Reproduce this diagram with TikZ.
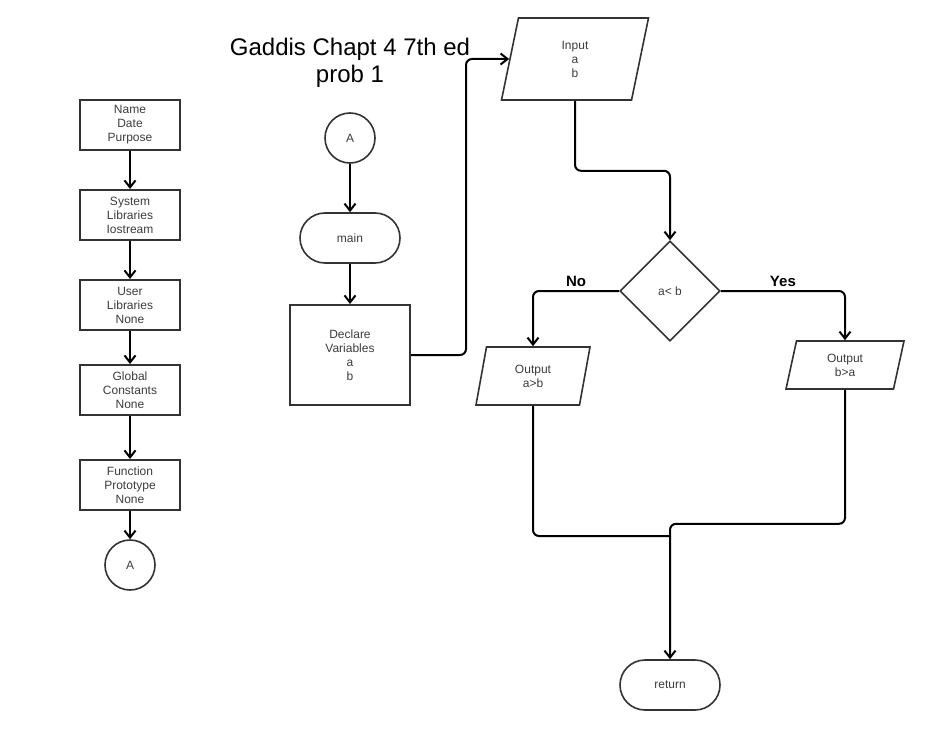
\documentclass[tikz,border=0pt]{standalone}
\usepackage{fontspec}
\setmainfont{Liberation Sans}
\usetikzlibrary{positioning}
\usetikzlibrary{shapes.geometric,arrows.meta}
\definecolor{boxline}{RGB}{51,51,51}
\definecolor{boxtext}{RGB}{60,60,60}

\begin{document}
\begin{tikzpicture}
    [x=1pt,y=-1pt,
     box/.style={rectangle,draw=boxline,line width=2pt,text=boxtext,font=\fontsize{12}{14}\selectfont,align=center,minimum width=100pt,minimum height=50pt,inner sep=2pt},
     conn/.style={circle,draw=boxline,line width=1.6pt,text=boxtext,font=\fontsize{12}{14}\selectfont,minimum size=50pt,inner sep=0pt},
     term/.style={rectangle,rounded corners=25pt,draw=boxline,line width=1.6pt,text=boxtext,font=\fontsize{12}{14}\selectfont,minimum width=100pt,minimum height=50pt},
     io/.style={trapezium,trapezium left angle=65,trapezium right angle=115,trapezium stretches body,draw=boxline,line width=1.6pt,text=boxtext,font=\fontsize{12}{14}\selectfont,align=center,inner sep=0pt},
     flow/.style={-{Straight Barb[length=7pt,width=11pt,line width=2pt]},line width=2pt,rounded corners=6pt}]
    \useasboundingbox (0,0) rectangle (947,730);
    % left column
    \node [box] (Heading) at (130,125) {Name\\Date\\Purpose};
    \node [box] (SysLib) at (130,215) {System\\Libraries\\Iostream};
    \node [box] (UserLib) at (130,305) {User\\Libraries\\None};
    \node [box] (GlobConst) at (130,390) {Global\\Constants\\None};
    \node [box] (FuncProto) at (130,485) {Function\\Prototype\\None};
    \node [conn] (ConnA) at (130,565) {A};
    \draw[flow] (Heading) to (SysLib);
    \draw[flow] (SysLib) to (UserLib);
    \draw[flow] (UserLib) to (GlobConst);
    \draw[flow] (GlobConst) to (FuncProto);
    \draw[flow] (FuncProto) to (ConnA);
    % title
    \node [align=center,font=\fontsize{24}{27}\selectfont,text=black] (Title) at (350,63) {Gaddis Chapt 4 7th ed\\prob 1};
    % main column
    \node [conn] (StartA) at (350,138) {A};
    \node [term] (Main) at (350,238) {main};
    \node [box,minimum width=120pt,minimum height=100pt] (Declare) at (350,355) {Declare\\Variables\\a\\b};
    \node [io,minimum width=147pt,minimum height=82pt] (Input) at (575,59) {Input\\a\\b};
    \node [diamond,draw=boxline,line width=1.6pt,text=boxtext,font=\fontsize{12}{14}\selectfont,minimum width=100pt,minimum height=100pt,inner sep=0pt] (Compare) at (670,291) {a< b};
    \node [io,minimum width=114pt,minimum height=58pt] (OutAB) at (533,376) {Output\\a>b};
    \node [io,minimum width=118pt,minimum height=48pt] (OutBA) at (845,365) {Output\\b>a};
    \node [term] (Return) at (670,685) {return};
    \coordinate (Join) at (670,536);
    \draw[flow] (StartA) to (Main);
    \draw[flow] (Main) to (Declare);
    \draw[flow] (Declare.east) -- ++(55,0) |- (Input.west);
    \draw[flow] (Input.south) -- ++(0,70) -| (Compare.north);
    \draw[flow] (Compare.west) -| (OutAB.north) node [pos=0.25,above,font=\bfseries\fontsize{15}{17}\selectfont] {No};
    \draw[flow] (Compare.east) -| (OutBA.north) node [pos=0.25,above,font=\bfseries\fontsize{15}{17}\selectfont] {Yes};
    \draw[line width=2pt,rounded corners=6pt] (OutAB.south) |- (Join);
    \draw[flow] (OutBA.south) -- ++(0,134) -| (Return.north);
\end{tikzpicture}
\end{document}
